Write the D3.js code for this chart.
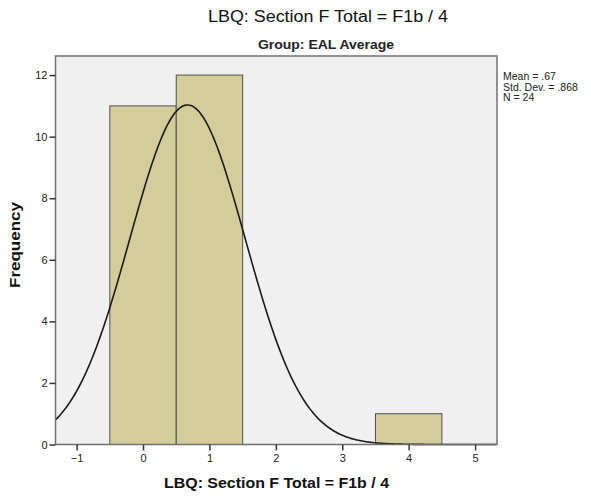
<!DOCTYPE html>
<html>
<head>
<meta charset="utf-8">
<script src="https://cdn.jsdelivr.net/npm/d3@7"></script>
<style>
  body { margin: 0; background: #fff; }
  text { font-family: "Liberation Sans", Arial, sans-serif; }
</style>
</head>
<body>
<svg id="chart" width="591" height="498"></svg>
<script>
// histogram bins (lower edge, upper edge) and counts
const binStarts = [-0.5, 0.5, 3.5];
const binEnds = [0.5, 1.5, 4.5];
const counts = [11, 12, 1];
const xTicks = [-1, 0, 1, 2, 3, 4, 5];
const yTicks = [0, 2, 4, 6, 8, 10, 12];
const stats = { mean: 0.67, sd: 0.868, n: 24 };
const legendLines = ['Mean = .67', 'Std. Dev. = .868', 'N = 24'];

const svg = d3.select('#chart');
const plotLeft = 55.5, plotRight = 497, plotTop = 56, plotBottom = 444.5;

const x = d3.scaleLinear().domain([-1.318, 5.33]).range([plotLeft, plotRight]);
const y = d3.scaleLinear().domain([0, 12.62]).range([plotBottom, plotTop]);

// plot background
svg.append('rect')
    .attr('x', plotLeft).attr('y', plotTop)
    .attr('width', plotRight - plotLeft).attr('height', plotBottom - plotTop)
    .attr('fill', '#f0f0f0');

// bars
svg.selectAll('rect.bar')
    .data(counts)
    .join('rect')
    .attr('class', 'bar')
    .attr('x', (d, i) => x(binStarts[i]))
    .attr('y', d => y(d))
    .attr('width', (d, i) => x(binEnds[i]) - x(binStarts[i]))
    .attr('height', d => plotBottom - y(d))
    .attr('fill', '#d3ce99')
    .attr('stroke', '#505050')
    .attr('stroke-width', 1);

// normal curve scaled to counts (bin width 1)
let binWidth = 1;
let curvePts = d3.range(-1.318, 5.34, 0.02).map(v => {
    let z = (v - stats.mean) / stats.sd;
    let dens = Math.exp(-0.5 * z * z) / (stats.sd * Math.sqrt(2 * Math.PI));
    return [v, dens * stats.n * binWidth];
});
svg.append('path')
    .datum(curvePts)
    .attr('fill', 'none')
    .attr('stroke', '#1a1a1a')
    .attr('stroke-width', 1.6)
    .attr('d', d3.line().x(d => x(d[0])).y(d => y(d[1])).curve(d3.curveBasis));

// frame
svg.append('rect')
    .attr('x', plotLeft).attr('y', plotTop)
    .attr('width', plotRight - plotLeft).attr('height', plotBottom - plotTop)
    .attr('fill', 'none')
    .attr('stroke', '#707070')
    .attr('stroke-width', 1.5);

// axes
let xAxis = svg.append('g')
    .attr('transform', `translate(0,${plotBottom})`)
    .call(d3.axisBottom(x).tickValues(xTicks).tickFormat(d3.format('d'))
        .tickSize(6).tickSizeOuter(0).tickPadding(4));
let yAxis = svg.append('g')
    .attr('transform', `translate(${plotLeft},0)`)
    .call(d3.axisLeft(y).tickValues(yTicks).tickFormat(d3.format('d'))
        .tickSize(6).tickSizeOuter(0).tickPadding(2));

[xAxis, yAxis].forEach(g => {
    g.select('.domain').remove();
    g.selectAll('line').attr('stroke', '#333').attr('stroke-width', 1.5);
    g.selectAll('text')
        .attr('font-family', '"Liberation Sans", Arial, sans-serif')
        .attr('font-size', 11)
        .attr('fill', '#222');
});

// titles
svg.append('text')
    .attr('x', 328).attr('y', 22)
    .attr('text-anchor', 'middle')
    .attr('font-size', 16)
    .attr('textLength', 240).attr('lengthAdjust', 'spacingAndGlyphs')
    .attr('fill', '#111')
    .text('LBQ: Section F Total = F1b / 4');

svg.append('text')
    .attr('x', 326).attr('y', 49)
    .attr('text-anchor', 'middle')
    .attr('font-size', 12)
    .attr('font-weight', 'bold')
    .attr('textLength', 136).attr('lengthAdjust', 'spacingAndGlyphs')
    .attr('fill', '#222')
    .text('Group: EAL Average');

svg.append('text')
    .attr('x', 276.5).attr('y', 488)
    .attr('text-anchor', 'middle')
    .attr('font-size', 15)
    .attr('font-weight', 'bold')
    .attr('textLength', 225).attr('lengthAdjust', 'spacingAndGlyphs')
    .attr('fill', '#111')
    .text('LBQ: Section F Total = F1b / 4');

svg.append('text')
    .attr('transform', 'translate(19.5,245) rotate(-90)')
    .attr('text-anchor', 'middle')
    .attr('font-size', 14)
    .attr('font-weight', 'bold')
    .attr('textLength', 86).attr('lengthAdjust', 'spacingAndGlyphs')
    .attr('fill', '#111')
    .text('Frequency');

// stats legend
svg.append('g')
    .selectAll('text')
    .data(legendLines)
    .join('text')
    .attr('x', 503)
    .attr('y', (d, i) => 80 + i * 10.5)
    .attr('font-size', 10.5)
    .attr('fill', '#222')
    .text(d => d);
</script>
</body>
</html>
